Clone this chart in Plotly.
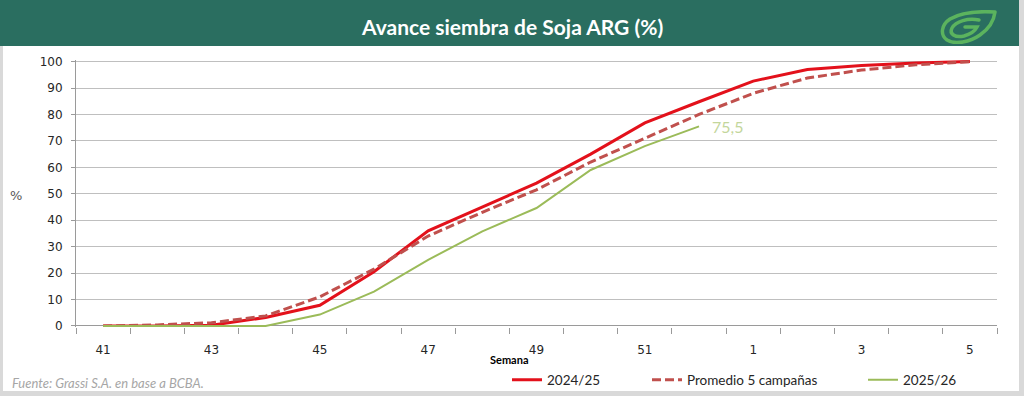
import base64
import plotly.graph_objects as go

weeks = ["41", "42", "43", "44", "45", "46", "47", "48", "49", "50", "51", "52", "1", "2", "3", "4", "5"]
s2024 = [0, 0, 0.3, 3.2, 7.8, 20.5, 36, 45, 54, 65, 76.8, 84.8, 92.6, 97, 98.5, 99.5, 100]
prom5 = [0, 0.4, 1.2, 3.8, 11, 21.5, 34, 43, 51.5, 62, 71, 80, 88, 93.8, 96.8, 98.8, 100]
s2025 = [0, 0, 0, 0, 4.3, 13, 25, 35.8, 44.6, 59, 68, 75.5]
series_names = ["2024/25", "Promedio 5 campañas", "2025/26"]
last_label = "75,5"

W, H = 1024, 396
PL, PR, PT, PB = 76, 997, 60, 327


def px(x):
    return (x - PL) / (PR - PL)


def py(y):
    return (PB - y) / (PB - PT)


xi = list(range(len(weeks)))

fig = go.Figure()
fig.add_trace(go.Scatter(x=xi, y=s2024, mode="lines", name=series_names[0],
                         line=dict(color="#e3111b", width=3), legend="legend"))
fig.add_trace(go.Scatter(x=xi, y=prom5, mode="lines", name=series_names[1],
                         line=dict(color="#c0504d", width=3, dash="9px,4px"), legend="legend2"))
fig.add_trace(go.Scatter(x=xi[:len(s2025)], y=s2025, mode="lines", name=series_names[2],
                         line=dict(color="#9bbb59", width=2), legend="legend3"))

fig.add_annotation(x=len(s2025) - 1, y=s2025[-1], text=last_label, showarrow=False,
                   xanchor="left", yanchor="middle", xshift=11,
                   font=dict(family="Lato", size=16, color="#c3d69b"))

leg_font = dict(family="Lato", size=13.5, color="#262626")
for key, tx in [("legend", 548), ("legend2", 688), ("legend3", 904)]:
    fig.update_layout(**{key: dict(x=px(tx - 41), xanchor="left", y=py(380), yanchor="middle",
                                   orientation="h", font=leg_font, bgcolor="rgba(0,0,0,0)",
                                   borderwidth=0, itemclick=False)})

# header band and frame
shapes = [
    dict(type="rect", xref="paper", yref="paper", x0=px(0), x1=px(1020), y0=py(46), y1=py(0),
         fillcolor="#2a6e60", line_width=0, layer="below"),
    dict(type="rect", xref="paper", yref="paper", x0=px(0), x1=px(3), y0=py(396), y1=py(46),
         fillcolor="#d9d9d9", line_width=0, layer="below"),
    dict(type="rect", xref="paper", yref="paper", x0=px(1019), x1=px(1024), y0=py(396), y1=py(0),
         fillcolor="#d9d9d9", line_width=0, layer="below"),
    dict(type="rect", xref="paper", yref="paper", x0=px(0), x1=px(1024), y0=py(396), y1=py(391),
         fillcolor="#d9d9d9", line_width=0, layer="below"),
]
fig.update_layout(shapes=shapes)

svg = ('<svg xmlns="http://www.w3.org/2000/svg" width="60" height="34" viewBox="0 0 60 34">'
       '<path d="M57,2 C40,1 22,3 12,9 C3,15 2,25 9,30 C17,35 32,32 42,25 C52,18 56,10 57,2 Z" '
       'fill="none" stroke="#5bb35e" stroke-width="3.5" stroke-linejoin="round"/>'
       '<path d="M41,10 C30,8 18,11 14,18 C11,24 17,28 26,26 C33,24 37,21 39,17 L27,17" '
       'fill="none" stroke="#5bb35e" stroke-width="3.5" stroke-linecap="round"/>'
       '</svg>')
src = "data:image/svg+xml;base64," + base64.b64encode(svg.encode()).decode()
fig.add_layout_image(source=src, xref="paper", yref="paper", x=px(938), y=py(10),
                     sizex=px(998) - px(938), sizey=py(10) - py(44), xanchor="left", yanchor="top",
                     sizing="stretch", layer="above")

fig.add_annotation(xref="paper", yref="paper", x=px(512), y=py(27), text="<b>Avance siembra de Soja ARG (%)</b>",
                   showarrow=False, xanchor="center", yanchor="middle",
                   font=dict(family="Lato", size=21, color="white"))
fig.add_annotation(xref="paper", yref="paper", x=px(16), y=py(195), text="%", showarrow=False,
                   xanchor="center", yanchor="middle", font=dict(family="DejaVu Sans", size=13, color="#595959"))
fig.add_annotation(xref="paper", yref="paper", x=px(509), y=py(359), text="<b>Semana</b>", showarrow=False,
                   xanchor="center", yanchor="middle", font=dict(family="Lato", size=11, color="#000000"))
fig.add_annotation(xref="paper", yref="paper", x=px(10), y=py(383), text="<i>Fuente: Grassi S.A. en base a BCBA.</i>",
                   showarrow=False, xanchor="left", yanchor="middle",
                   font=dict(family="Lato", size=13, color="#a6a6a6"))

fig.update_layout(
    width=W, height=H,
    margin=dict(l=PL, r=W - PR, t=PT, b=H - PB, pad=0, autoexpand=False),
    paper_bgcolor="white", plot_bgcolor="white",
    showlegend=True,
    xaxis=dict(range=[-0.5, len(weeks) - 0.5], tickmode="array", tickvals=xi[::2], ticktext=weeks[::2],
               ticks="", showgrid=False, zeroline=False, showline=False, ticklabelstandoff=14,
               tickfont=dict(family="DejaVu Sans", size=12, color="#262626"),
               minor=dict(ticks="outside", tickmode="linear", tick0=-0.5, dtick=1, ticklen=6,
                          tickcolor="#9a9a9a", tickwidth=1, showgrid=False)),
    yaxis=dict(range=[-0.4, 100.6], tickmode="linear", tick0=0, dtick=10,
               showgrid=True, gridcolor="#bfbfbf", gridwidth=1,
               zeroline=True, zerolinecolor="#9a9a9a", zerolinewidth=1,
               showline=True, linecolor="#9a9a9a", linewidth=1,
               ticks="outside", ticklen=4, tickcolor="#9a9a9a", ticklabelstandoff=6,
               tickfont=dict(family="DejaVu Sans", size=12, color="#262626")),
)

fig.write_html("out.html", config={"displayModeBar": False},
               post_script="document.body.style.margin='0px';document.body.style.overflow='hidden';")
